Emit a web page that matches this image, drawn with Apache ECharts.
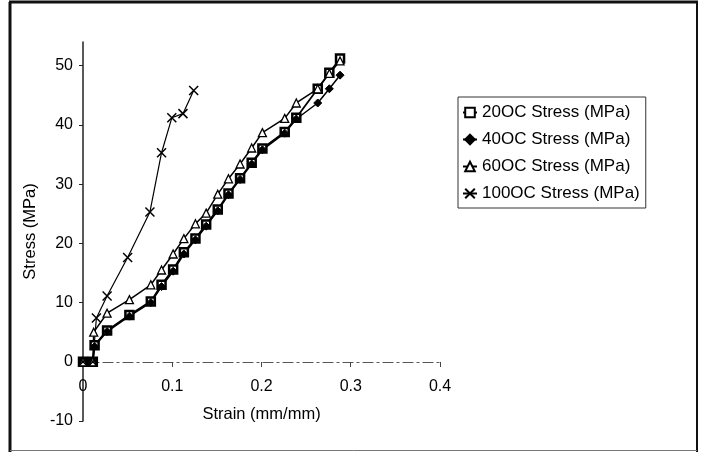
<!DOCTYPE html>
<html>
<head>
<meta charset="utf-8">
<script src="https://cdn.jsdelivr.net/npm/echarts@6/dist/echarts.min.js"></script>
<style>html,body{margin:0;padding:0;background:#fff;}#c{width:701px;height:452px;}</style>
</head>
<body>
<div id="c"></div>
<script>
var seriesNames = ['20OC Stress (MPa)', '40OC Stress (MPa)', '60OC Stress (MPa)', '100OC Stress (MPa)'];
var xTicks = [0, 0.1, 0.2, 0.3, 0.4];
var yTicks = [-10, 0, 10, 20, 30, 40, 50];

var strain20 = [0, 0.011, 0.013, 0.027, 0.052, 0.076, 0.088, 0.101, 0.113, 0.126, 0.138, 0.151, 0.163, 0.176, 0.189, 0.201, 0.226, 0.239, 0.263, 0.276, 0.288];
var stress20 = [0, 0, 2.8, 5.3, 7.9, 10.2, 13.0, 15.6, 18.5, 20.8, 23.2, 25.7, 28.4, 31.0, 33.6, 36.0, 38.8, 41.2, 46.1, 48.8, 51.2];

var strain40 = [0, 0.011, 0.013, 0.027, 0.052, 0.076, 0.088, 0.101, 0.113, 0.126, 0.138, 0.151, 0.163, 0.176, 0.189, 0.201, 0.226, 0.239, 0.263, 0.276, 0.288];
var stress40 = [0, 0, 2.6, 5.1, 7.7, 10.0, 12.7, 15.3, 18.2, 20.6, 22.9, 25.5, 28.2, 30.8, 33.4, 35.8, 38.6, 41.0, 43.7, 46.1, 48.4];

var strain60 = [0, 0.011, 0.012, 0.027, 0.052, 0.076, 0.088, 0.101, 0.113, 0.126, 0.138, 0.151, 0.163, 0.176, 0.189, 0.201, 0.226, 0.239, 0.263, 0.276, 0.288];
var stress60 = [0, 0, 5.0, 8.2, 10.5, 13.0, 15.5, 18.2, 20.8, 23.3, 25.1, 28.3, 30.9, 33.4, 36.1, 38.7, 41.1, 43.7, 46.1, 48.7, 50.8];

var strain100 = [0, 0.011, 0.015, 0.027, 0.050, 0.075, 0.088, 0.0995, 0.112, 0.124];
var stress100 = [0, 0, 7.4, 11.1, 17.6, 25.3, 35.3, 41.2, 41.9, 45.8];

function pairs(xs, ys) { return xs.map(function (x, i) { return [x, ys[i]]; }); }

var FONT = '"Liberation Sans", Arial, sans-serif';
var crossPath = 'path://M0,0L10,10M10,0L0,10';

function mk(name, data, symbol, size, fill, bw, lw) {
  return {
    name: name, type: 'line', data: data,
    symbol: symbol, symbolSize: size, showSymbol: true,
    lineStyle: { color: '#000', width: lw },
    itemStyle: { color: fill, borderColor: '#000', borderWidth: bw },
    emphasis: { disabled: true },
    animation: false, z: 3
  };
}

var chart = echarts.init(document.getElementById('c'), null, { renderer: 'canvas' });
chart.setOption({
  backgroundColor: '#fff',
  animation: false,
  grid: { left: 83, right: 261, top: 42, bottom: 31, containLabel: false, outerBoundsMode: 'none' },
  legend: {
    orient: 'vertical', left: 458, top: 97,
    data: seriesNames,
    itemWidth: 14, itemHeight: 12, itemGap: 10,
    padding: [7, 6, 6, 4],
    borderColor: '#333', borderWidth: 1,
    textStyle: { color: '#000', fontSize: 17, fontFamily: FONT }
  },
  xAxis: {
    type: 'value', min: 0, max: 0.4, interval: 0.1,
    offset: -59,
    name: 'Strain (mm/mm)', nameLocation: 'middle', nameGap: 44,
    nameTextStyle: { color: '#000', fontSize: 16.5, fontFamily: FONT },
    axisLine: { onZero: false, lineStyle: { color: '#555', width: 1.2, type: [10, 4, 2, 4] } },
    axisTick: { show: true, inside: false, length: 5, lineStyle: { color: '#444' } },
    axisLabel: { color: '#000', fontSize: 16, fontFamily: FONT, margin: 17 },
    splitLine: { show: false }
  },
  yAxis: {
    type: 'value', min: -10, max: 54, interval: 10,
    name: 'Stress (MPa)', nameLocation: 'middle', nameGap: 42,
    nameTextStyle: { color: '#000', fontSize: 16.5, fontFamily: FONT },
    axisLine: { show: true, onZero: false, lineStyle: { color: '#222', width: 1.5 } },
    axisTick: { show: true, length: 4, customValues: yTicks, lineStyle: { color: '#222' } },
    axisLabel: { color: '#000', fontSize: 16, fontFamily: FONT, margin: 10, customValues: yTicks },
    splitLine: { show: false }
  },
  series: [
    mk(seriesNames[0], pairs(strain20, stress20), 'rect', 8, '#fff', 2.5, 1.8),
    mk(seriesNames[1], pairs(strain40, stress40), 'diamond', 8, '#000', 1, 1.5),
    mk(seriesNames[2], pairs(strain60, stress60), 'triangle', 8, '#fff', 1.3, 1.5),
    mk(seriesNames[3], pairs(strain100, stress100), crossPath, 9, '#000', 1.5, 1.2)
  ],
  graphic: [
    { type: 'line', shape: { x1: 10, y1: 2, x2: 10, y2: 452 }, style: { stroke: '#111', lineWidth: 3 }, silent: true },
    { type: 'line', shape: { x1: 9, y1: 2, x2: 698, y2: 2 }, style: { stroke: '#111', lineWidth: 3 }, silent: true },
    { type: 'line', shape: { x1: 697, y1: 1, x2: 697, y2: 452 }, style: { stroke: '#111', lineWidth: 2 }, silent: true },
    { type: 'line', shape: { x1: 10, y1: 450.5, x2: 697, y2: 450.5 }, style: { stroke: '#777', lineWidth: 1 }, silent: true }
  ]
});
</script>
</body>
</html>
